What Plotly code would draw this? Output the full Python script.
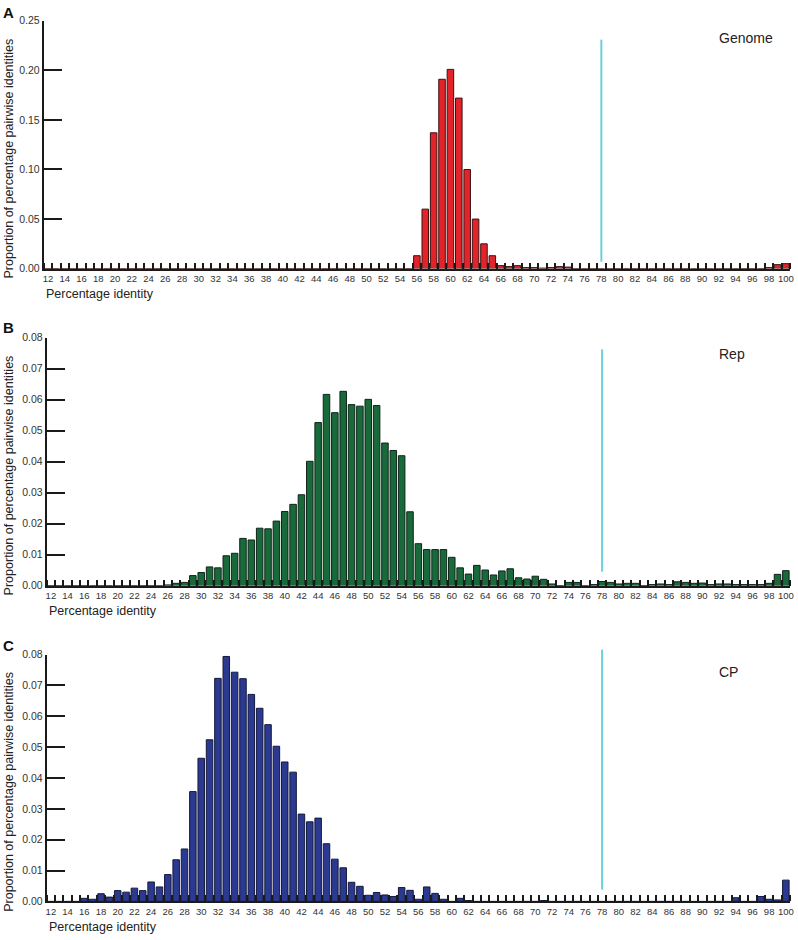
import plotly.graph_objects as go

# ---------------- data ----------------
identities = list(range(12, 101))  # percentage identity categories 12..100

genome = ([0] * 44 +
          [0.013, 0.060, 0.137, 0.191, 0.201, 0.172, 0.100, 0.050, 0.025, 0.013] +
          [0.003, 0.002, 0.003, 0.001, 0.001, 0.0005, 0.001, 0.002, 0.0015] +
          [0] * 23 +
          [0.001, 0.004, 0.005])

rep = ([0] * 14 +
       [0.0002, 0.0007, 0.001, 0.0032, 0.0042, 0.006, 0.0057, 0.0096, 0.0104, 0.0152,
        0.0147, 0.0185, 0.0183, 0.0208, 0.0239, 0.0262, 0.0293, 0.0401, 0.0526, 0.0617,
        0.0558, 0.0627, 0.0584, 0.0579, 0.0601, 0.0581, 0.046, 0.0436, 0.0419, 0.0238,
        0.0135, 0.0116, 0.0116, 0.0116, 0.0091, 0.0057, 0.0037, 0.0065, 0.005, 0.0034,
        0.0047, 0.0054, 0.0025, 0.0021, 0.003, 0.002, 0.0005, 0, 0.001, 0.001,
        0, 0.0003, 0.0013, 0.001, 0.0005, 0.0007, 0.0007, 0, 0.0003, 0.0005,
        0.0003, 0.0012, 0.001, 0.0007, 0.0008, 0.0003, 0.0005, 0.0005, 0.0003, 0.0003,
        0.0003, 0.0003, 0.0007, 0.0036, 0.0048])

cp = ([0] * 4 +
      [0.001, 0.0007, 0.0025, 0.0014, 0.0035, 0.003, 0.0043, 0.0035, 0.0063, 0.0047,
       0.0087, 0.0135, 0.017, 0.0356, 0.0464, 0.0524, 0.0723, 0.0794, 0.0743, 0.0722,
       0.0671, 0.0626, 0.0573, 0.0503, 0.0452, 0.0419, 0.0283, 0.0258, 0.027, 0.0187,
       0.0137, 0.0109, 0.0062, 0.0049, 0.002, 0.0029, 0.0021, 0.0016, 0.0045, 0.0036,
       0.0007, 0.0047, 0.0026, 0.0007, 0, 0.001, 0.0003] +
      [0] * 8 + [0.0003] + [0] * 22 +
      [0.0012, 0, 0, 0.0016, 0.0007, 0.0005, 0.0069])

panel_letters = ["A", "B", "C"]
panel_names = ["Genome", "Rep", "CP"]
threshold = 78
y_max = [0.25, 0.08, 0.08]
y_step = [0.05, 0.01, 0.01]
series = [genome, rep, cp]
colors = ["#e3232a", "#186a3b", "#2b3990"]
edge_colors = ["#3a1212", "#10241a", "#141a3a"]

x_tick_vals = list(range(12, 101, 2))
x_tick_text = [str(v) for v in x_tick_vals]

# ---------------- layout geometry (pixels) ----------------
W, H = 798, 940
x_left_px = [43, 46, 46]
x_right_px = 794
y_top_px = [15, 336, 657]
y_bot_px = [266, 587, 907]
line_span = [(0.028, 0.924), (0.056, 0.953), (0.048, 1.02)]

FONT = "Liberation Sans, Arial, sans-serif"
AXC = "#1a1a1a"

fig = go.Figure()
layout = dict(
    width=W, height=H,
    margin=dict(l=0, r=0, t=0, b=0),
    paper_bgcolor="white", plot_bgcolor="white",
    showlegend=False, bargap=0.22,
    font=dict(family=FONT, color="#222"),
)
annotations = []
shapes = []

for i in range(3):
    sx = "" if i == 0 else str(i + 1)
    xa, ya = "x" + sx, "y" + sx
    fig.add_trace(go.Bar(
        x=identities, y=series[i], xaxis=xa, yaxis=ya,
        width=0.78,
        marker=dict(color=colors[i], line=dict(color=edge_colors[i], width=1)),
        hoverinfo="x+y",
    ))
    layout["xaxis" + sx] = dict(
        domain=[x_left_px[i] / W, x_right_px / W], anchor=ya,
        range=[11.5, 100.5], showline=True, linecolor=AXC, linewidth=2,
        showgrid=False, zeroline=False,
        tickmode="array", tickvals=x_tick_vals, ticktext=x_tick_text, ticks="",
        tickfont=dict(size=9.5, color="#333", family=FONT),
        minor=dict(tickmode="linear", tick0=0.5, dtick=1, ticks="inside",
                   ticklen=6, tickwidth=2, tickcolor=AXC, showgrid=False),
    )
    layout["yaxis" + sx] = dict(
        domain=[1 - y_bot_px[i] / H, 1 - y_top_px[i] / H], anchor=xa,
        range=[0, y_max[i]], dtick=y_step[i], tickformat=".2f",
        showline=True, linecolor=AXC, linewidth=2,
        showgrid=False, zeroline=False,
        ticks="inside", ticklen=18, tickwidth=2, tickcolor=AXC,
        tickfont=dict(size=10.5, color="#333", family=FONT),
    )
    # threshold line
    shapes.append(dict(type="line", xref=xa, yref=ya + " domain",
                       x0=threshold, x1=threshold,
                       y0=line_span[i][0], y1=line_span[i][1],
                       line=dict(color="#6ccfdc", width=2)))
    # panel letter
    letter_y = [7, 326, 648][i]
    annotations.append(dict(text="<b>" + panel_letters[i] + "</b>", xref="paper", yref="paper",
                            x=0.5 / W, y=1 - letter_y / H, xanchor="left", yanchor="middle",
                            showarrow=False, font=dict(size=15, color="#111", family=FONT)))
    # y title
    yc = (y_top_px[i] + y_bot_px[i]) / 2 + 14
    annotations.append(dict(text="Proportion of percentage pairwise identities",
                            xref="paper", yref="paper", x=8 / W, y=1 - yc / H,
                            xanchor="center", yanchor="middle", textangle=-90,
                            showarrow=False, font=dict(size=12.5, color="#222", family=FONT)))
    # x title
    annotations.append(dict(text="Percentage identity", xref="paper", yref="paper",
                            x=x_left_px[i] / W, y=1 - (y_bot_px[i] + 26) / H,
                            xanchor="left", yanchor="middle", showarrow=False,
                            font=dict(size=12.5, color="#222", family=FONT)))
    # inner label
    label_y = [32, 352, 675][i]
    annotations.append(dict(text=panel_names[i], xref="paper", yref="paper",
                            x=721 / W, y=1 - label_y / H, xanchor="left", yanchor="middle",
                            showarrow=False, font=dict(size=14, color="#222", family=FONT)))

layout["annotations"] = annotations
layout["shapes"] = shapes
fig.update_layout(**layout)
fig.write_html(
    "out.html",
    config={"displayModeBar": False},
    post_script="document.body.style.margin='0';document.body.style.overflow='hidden';",
)
